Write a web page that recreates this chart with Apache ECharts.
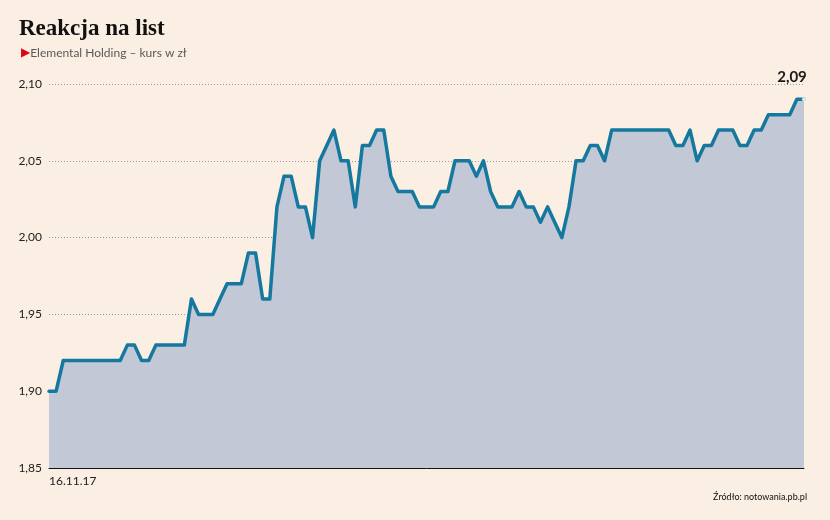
<!DOCTYPE html>
<html>
<head>
<meta charset="utf-8">
<script src="https://cdn.jsdelivr.net/npm/echarts@6/dist/echarts.min.js"></script>
<style>
  html, body { margin: 0; padding: 0; background: #fbeee2; }
  #chart { width: 830px; height: 520px; }
</style>
</head>
<body>
<div id="chart"></div>
<script>
// Data (daily closing price, PLN)
const firstDateLabel = '16.11.17';
const prices = [
  1.90, 1.90, 1.92, 1.92, 1.92, 1.92, 1.92, 1.92, 1.92, 1.92,
  1.92, 1.93, 1.93, 1.92, 1.92, 1.93, 1.93, 1.93, 1.93, 1.93,
  1.96, 1.95, 1.95, 1.95, 1.96, 1.97, 1.97, 1.97, 1.99, 1.99,
  1.96, 1.96, 2.02, 2.04, 2.04, 2.02, 2.02, 2.00, 2.05, 2.06,
  2.07, 2.05, 2.05, 2.02, 2.06, 2.06, 2.07, 2.07, 2.04, 2.03,
  2.03, 2.03, 2.02, 2.02, 2.02, 2.03, 2.03, 2.05, 2.05, 2.05,
  2.04, 2.05, 2.03, 2.02, 2.02, 2.02, 2.03, 2.02, 2.02, 2.01,
  2.02, 2.01, 2.00, 2.02, 2.05, 2.05, 2.06, 2.06, 2.05, 2.07,
  2.07, 2.07, 2.07, 2.07, 2.07, 2.07, 2.07, 2.07, 2.06, 2.06,
  2.07, 2.05, 2.06, 2.06, 2.07, 2.07, 2.07, 2.06, 2.06, 2.07,
  2.07, 2.08, 2.08, 2.08, 2.08, 2.09, 2.09
];
const categories = prices.map((_, i) => (i === 0 ? firstDateLabel : 'd' + i));
const yTicks = [1.85, 1.90, 1.95, 2.00, 2.05, 2.10];
const lastLabel = '2,09';

const fmt = v => v.toFixed(2).replace('.', ',');

const seriesData = prices.map((v, i) => {
  if (i === prices.length - 1) {
    return {
      value: v,
      symbol: 'circle',
      symbolSize: 4,
      itemStyle: { color: '#dfe6ee', borderWidth: 0 },
      label: {
        show: true,
        position: 'top',
        distance: 13,
        offset: [-12, 0],
        formatter: lastLabel,
        fontFamily: 'Lato',
        fontWeight: 'bold',
        fontSize: 15,
        color: '#1a1a1a'
      }
    };
  }
  return v;
});

const chart = echarts.init(document.getElementById('chart'), null, { renderer: 'canvas' });
chart.setOption({
  backgroundColor: '#fbeee2',
  animation: false,
  title: [
    {
      text: 'Reakcja na list',
      left: 14,
      top: 13,
      textStyle: { fontFamily: 'Liberation Serif', fontWeight: 'bold', fontSize: 23, color: '#111' }
    },
    {
      text: '{tri|▶}{sub|Elemental Holding – kurs w zł}',
      left: 16,
      top: 42,
      textStyle: {
        fontWeight: 'normal',
        rich: {
          tri: { color: '#e3001b', fontSize: 12, fontWeight: 'normal', fontFamily: 'DejaVu Sans', padding: [0, 0, 0, 0] },
          sub: { color: '#5a5a5a', fontSize: 12, fontWeight: 'normal', fontFamily: 'Lato' }
        }
      }
    },
    {
      text: 'Źródło: notowania.pb.pl',
      right: 18,
      top: 488,
      textStyle: { fontFamily: 'Lato', fontSize: 9, fontWeight: 'normal', color: '#111' }
    }
  ],
  grid: { left: 49, right: 26, top: 84, bottom: 52, containLabel: false },
  xAxis: {
    type: 'category',
    data: categories,
    boundaryGap: false,
    axisLine: { show: true, lineStyle: { color: '#111', width: 1 } },
    axisTick: { show: false },
    splitLine: { show: false },
    axisLabel: {
      interval: 0,
      formatter: (v, i) => (i === 0 ? v : ''),
      align: 'left',
      margin: 7,
      fontFamily: 'Lato',
      fontSize: 12,
      color: '#222'
    }
  },
  yAxis: {
    type: 'value',
    min: yTicks[0],
    max: yTicks[yTicks.length - 1],
    interval: 0.05,
    axisLine: { show: false },
    axisTick: { show: false },
    axisLabel: {
      formatter: v => fmt(v),
      margin: 7,
      fontFamily: 'Lato',
      fontSize: 12,
      color: '#222'
    },
    splitLine: { show: true, lineStyle: { color: '#9a9a9a', type: [1, 2], width: 1 } }
  },
  series: [
    {
      type: 'line',
      data: seriesData,
      showSymbol: true,
      symbol: 'none',
      smooth: false,
      lineStyle: { color: '#14789f', width: 3.5, join: 'round', cap: 'round' },
      areaStyle: { color: '#c2c8d6', opacity: 1 },
      z: 3
    }
  ]
});
</script>
</body>
</html>
